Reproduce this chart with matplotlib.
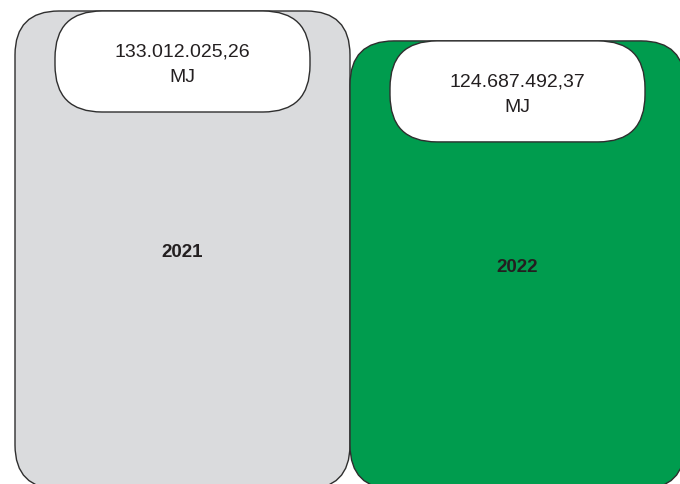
import matplotlib.pyplot as plt
from matplotlib.patches import FancyBboxPatch

# Energy consumption per year
years = ['2021', '2022']
energy_mj = [133012025.26, 124687492.37]
value_labels = ['133.012.025,26\nMJ', '124.687.492,37\nMJ']
bar_colors = ['#dadbdd', '#009c4e']

plt.rcParams['font.family'] = ['Liberation Sans', 'DejaVu Sans']

W, H = 680, 485
fig = plt.figure(figsize=(W / 100, H / 100), dpi=100)
# axes reach slightly below the figure so the bar bottoms are clipped
ax = fig.add_axes([0, -5 / H, 1, (H + 5) / H])
ax.set_xlim(-0.5 - 15 / 335, -0.5 + 665 / 335)
ax.set_ylim(0, energy_mj[0] * (490 / 478))
ax.axis('off')

bars = ax.bar(range(len(years)), energy_mj, width=1.0, color='none')

# pixel -> data unit sizes
px_x = (ax.get_xlim()[1] - ax.get_xlim()[0]) / W
px_y = (ax.get_ylim()[1] - ax.get_ylim()[0]) / (H + 5)
aspect = px_y / px_x

edge = '#2e2e2e'
for bar, color, year, label in zip(bars, bar_colors, years, value_labels):
    x, w, h = bar.get_x(), bar.get_width(), bar.get_height()
    bar.remove()
    ax.add_patch(FancyBboxPatch((x, 0), w, h,
                                boxstyle=f'round,pad=0,rounding_size={44 * px_x}',
                                mutation_aspect=aspect,
                                facecolor=color, edgecolor=edge, lw=1.0))
    ax.text(x + w / 2, h / 2 - 1.5 * px_y, year, ha='center', va='center',
            fontsize=13.5, fontweight='bold', color='#231f20')

    # white pill holding the value
    pw, ph = 255 * px_x, 101 * px_y
    cx = x + w / 2
    ax.add_patch(FancyBboxPatch((cx - pw / 2, h - ph), pw, ph,
                                boxstyle=f'round,pad=0,rounding_size={47 * px_x}',
                                mutation_aspect=aspect,
                                facecolor='white', edgecolor=edge, lw=1.0, zorder=3))
    ax.text(cx, h - ph / 2 - 2.5 * px_y, label, ha='center', va='center',
            fontsize=14, color='#231f20', linespacing=1.65, zorder=4)

fig.savefig('out.png', dpi=100)
